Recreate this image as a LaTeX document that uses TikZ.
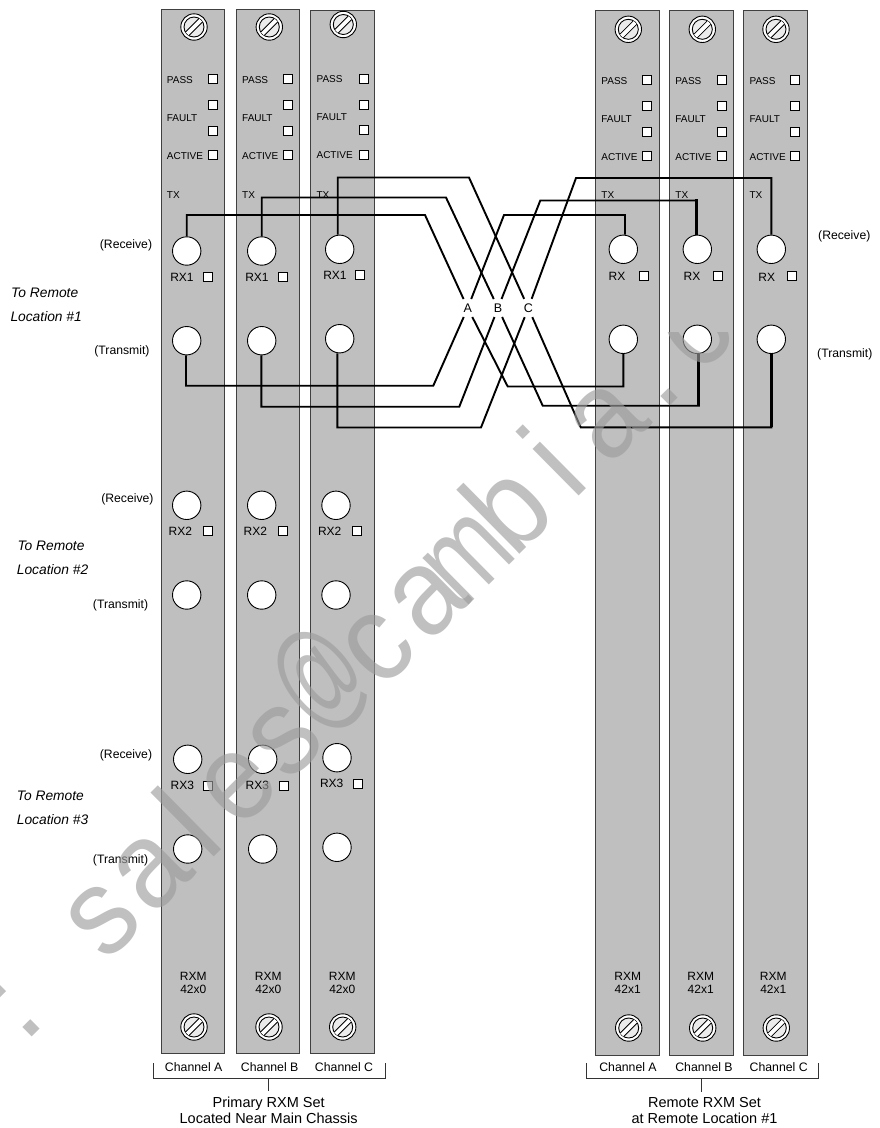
\documentclass[tikz,border=0pt]{standalone}
\usepackage{fontspec}
\usepackage{graphicx}
\setmainfont{Liberation Sans}
\usetikzlibrary{calc}
\usetikzlibrary{positioning}

\definecolor{panelgray}{gray}{0.75}
\definecolor{panelline}{gray}{0.25}
\definecolor{markgray}{gray}{0.61}

\tikzset{
  panelbox/.style={draw=panelline, line width=1pt, fill=panelgray, anchor=north west,
    inner sep=0pt, outer sep=0pt, minimum width=63.6pt},
  ledbox/.style={draw=black, line width=0.9pt, fill=white, inner sep=0pt, minimum size=9pt},
  portcirc/.style={circle, draw=black, line width=0.9pt, fill=white, inner sep=0pt, minimum size=28.4pt},
  ledtext/.style={anchor=west, inner sep=0pt, font=\fontsize{10}{12}\selectfont},
  rxtext/.style={inner sep=0pt, font=\fontsize{12}{14}\selectfont},
  sidetext/.style={inner sep=0pt, font=\fontsize{12.2}{14}\selectfont},
  loctext/.style={inner sep=0pt, anchor=west, font=\fontsize{13.8}{16}\selectfont\itshape},
  modeltext/.style={inner sep=0pt, align=center, font=\fontsize{12}{12.6}\selectfont},
  chantext/.style={inner sep=0pt, font=\fontsize{12.3}{14}\selectfont},
  settext/.style={inner sep=5.5pt, align=center, font=\fontsize{14.5}{16}\selectfont},
  xtext/.style={inner xsep=1pt, inner ysep=4.5pt, font=\fontsize{12.5}{14}\selectfont},
  wire/.style={draw=black, line width=1.9pt, line join=miter},
  bracketline/.style={draw=black!80, line width=0.9pt},
  stampletter/.style={anchor=base, inner sep=0pt, rotate=44.7, opacity=0.64, text=markgray,
    font=\fontsize{124}{124}\selectfont},
  screwhead/.pic={
    \draw[fill=white, line width=0.9pt] (0,0) circle (13.2);
    \draw[fill=black!8, line width=0.9pt] (0,0) circle (10);
    \fill[white] (-8.6,5.1) -- (5.1,-8.6) -- (8.6,-5.1) -- (-5.1,8.6) -- cycle;
    \draw[line width=0.8pt] (-8.6,5.1) -- (5.1,-8.6);
    \draw[line width=0.8pt] (-5.1,8.6) -- (8.6,-5.1);
  }
}

\begin{document}
\begin{tikzpicture}[x=1pt, y=-1pt]

    \useasboundingbox (0,0) rectangle (879,1128);

    % the six modules
    \foreach \pn/\pl/\pt/\ph/\sx/\sy/\bx/\by/\lx/\dy/\mx/\cx/\mt/\chl in {
        pa/161/9.5/1044.2/194/27/194/1027/212.7/0/193.3/193.7/42x0/A,
        pb/236.3/9.5/1044.2/269.3/27/269/1027/287.7/0/268.3/269.7/42x0/B,
        pc/310.7/10/1043.7/343.3/24.5/342.7/1027/364/-0.5/342.3/344/42x0/C,
        ra/595.5/10.5/1044.5/628.3/29.3/628.7/1028/647.3/1.2/627.7/628/42x1/A,
        rb/669.5/10.5/1044.5/702.3/29.3/702.7/1028/721.6/1.2/700.7/704/42x1/B,
        rc/743.7/10.5/1044.5/776/29.3/776.3/1028/795.3/1.2/773.3/778.7/42x1/C} {
      \node[panelbox, minimum height=\ph pt] (panel_\pn) at (\pl,\pt) {};
      \pic (screwtop_\pn) at (\sx,\sy) {screwhead};
      \pic (screwbot_\pn) at (\bx,\by) {screwhead};
      \node[ledtext] (pass_\pn) at (\pl+5.7,80+\dy) {PASS};
      \node[ledtext] (fault_\pn) at (\pl+5.7,118+\dy) {FAULT};
      \node[ledtext] (active_\pn) at (\pl+5.7,156+\dy) {ACTIVE};
      \node[ledtext] (txt_\pn) at (\pl+5.7,195) {TX};
      \node[ledbox] (ledpass_\pn) at (\lx,79+\dy) {};
      \node[ledbox] (ledfa_\pn) at (\lx,105+\dy) {};
      \node[ledbox] (ledfb_\pn) at (\lx,130.5+\dy) {};
      \node[ledbox] (ledact_\pn) at (\lx,155+\dy) {};
      \node[modeltext] (model_\pn) at (\mx,983) {RXM\\\mt};
      \node[chantext] (chan_\pn) at (\cx,1067) {Channel \chl};
    }

    % ports
    \foreach \pn/\x/\y in {
        rxo_a/186.7/251, rxo_b/261.7/251, rxo_c/339.7/249.3,
        txo_a/186.7/340.7, txo_b/261.7/340.7, txo_c/339.7/338.7,
        rxt_a/186.7/505.3, rxt_b/261.7/505.3, rxt_c/336/505.3,
        txt_a/186.7/595, txt_b/261.7/595, txt_c/336/595,
        rxh_a/187.7/759.3, rxh_b/262.7/759.3, rxh_c/337/757.7,
        txh_a/187.7/849, txh_b/262.7/849, txh_c/337/847.3,
        rxr_a/623.3/249.3, rxr_b/697.3/249.3, rxr_c/771.3/249.3,
        txr_a/623.3/339.3, txr_b/697.3/339.3, txr_c/771.3/339.3} {
      \node[portcirc] (\pn) at (\x,\y) {};
    }

    % receive labels and their lamps
    \foreach \rxname/\x/\y/\lx/\ly [count=\i] in {
        RX1/182/277.7/207.7/277, RX1/257/277.7/282.7/277, RX1/335/275.7/360.3/275.3,
        RX2/180.3/531/207.7/531.3, RX2/255.3/531/282.7/531.3, RX2/329.7/531/357/531.3,
        RX3/182.3/785/208.3/785.7, RX3/257.3/785/283.7/785.7, RX3/331.7/783.7/358/784,
        RX/617/276.5/644.3/275.7, RX/692/276.5/718.3/275.7, RX/766.7/277.2/792.3/275.7} {
      \node[rxtext] (rxname_\i) at (\x,\y) {\rxname};
      \node[ledbox] (rxled_\i) at (\lx,\ly) {};
    }

    % side labels
    \node[sidetext, anchor=east] (recv_one) at (152.3,245) {(Receive)};
    \node[sidetext, anchor=east] (trans_one) at (149.7,351) {(Transmit)};
    \node[sidetext, anchor=east] (recv_two) at (153.7,499.7) {(Receive)};
    \node[sidetext, anchor=east] (trans_two) at (148.3,605) {(Transmit)};
    \node[sidetext, anchor=east] (recv_three) at (152.3,755) {(Receive)};
    \node[sidetext, anchor=east] (trans_three) at (148.3,860) {(Transmit)};
    \node[sidetext, anchor=west] (recv_rem) at (818,236) {(Receive)};
    \node[sidetext, anchor=west] (trans_rem) at (817,354) {(Transmit)};

    \node[loctext] (to_one) at (11,293) {To Remote};
    \node[loctext] (loc_one) at (10.3,317) {Location \#1};
    \node[loctext] (to_two) at (17.3,546) {To Remote};
    \node[loctext] (loc_two) at (16.7,570) {Location \#2};
    \node[loctext] (to_three) at (16.7,796) {To Remote};
    \node[loctext] (loc_three) at (16.7,820) {Location \#3};

    % crossover cables
    \node[xtext] (cross_a) at (467.7,308) {A};
    \node[xtext] (cross_b) at (498,308) {B};
    \node[xtext] (cross_c) at (528.3,308) {C};

    \draw[wire] (rxo_a.north) |- (425,215) -- (cross_a) -- (507.7,386.5) -| (txr_a.south);
    \draw[wire] (rxo_b.north) |- (446,197.5) -- (cross_b) -- (542.7,405.7) -| ([xshift=1.5pt]txr_b.south);
    \draw[wire] ([xshift=-2pt]rxo_c.north) |- (469,177.5) -- (cross_c) -- (580.7,427.3) -| (txr_c.south);
    \draw[wire] ([xshift=-0.7pt]txo_a.south) |- (433.3,385.7) -- (cross_a) -- (504,215) -| ([xshift=1.7pt]rxr_a.north);
    \draw[wire] ([xshift=-0.4pt]txo_b.south) |- (459.3,406.7) -- (cross_b) -- (540.3,200.5) -| ([xshift=-0.6pt]rxr_b.north);
    \draw[wire] ([xshift=-2.4pt]txo_c.south) |- (481,427.5) -- (cross_c) -- (576,178) -| (rxr_c.north);
    \draw[wire, line width=2.8pt] ([xshift=-0.6pt]rxr_b.north) -- ++(0,-36);
    \draw[wire, line width=2.8pt] ([xshift=1.5pt]txr_b.south) -- ++(0,52);
    \draw[wire, line width=2.8pt] (txr_c.south) -- ++(0,73);

    % brackets below each set
    \node[settext] (primary_set) at (268.7,1110.5) {Primary RXM Set\\Located Near Main Chassis};
    \node[settext] (remote_set) at (704.5,1110.5) {Remote RXM Set\\at Remote Location \#1};
    \coordinate (primary_stem) at (268.7,1078.3);
    \coordinate (remote_stem) at (701,1078.3);
    \draw[bracketline] (153.7,1063.3) -- (153.7,1078.3) -- (385.3,1078.3) -- (385.3,1063.3);
    \draw[bracketline] (586.3,1063.3) -- (586.3,1078.3) -- (818,1078.3) -- (818,1063.3);
    \draw[bracketline] (primary_stem) -- (primary_stem |- primary_set.north);
    \draw[bracketline] (remote_stem) -- (remote_stem |- remote_set.north);

    % stamp across the sheet, letter by letter along its slanted base line
    \begin{scope}
      \clip (0,332) rectangle (879,1128);
      \fill[markgray, opacity=0.64] (-6,991) -- (0,985) -- (6,991) -- (0,997) -- cycle;
      \foreach \ch/\sd/\sq/\up [count=\i] in {
          ./-257/0.95/0, s/-130/0.92/0, a/-61.6/0.92/0, l/-2/0.95/0, e/61/0.92/0, s/126/0.92/0, @/194/0.64/14,
          c/256.5/0.92/0, a/327/0.92/0, m/384/0.75/0, b/448/0.92/0, i/511/0.95/0, a/579/0.92/0, ./640/0.95/0, c/705/0.92/0} {
        \node[stampletter] (stamp_\i) at (219+0.711*\sd-0.703*\up,852-0.703*\sd-0.711*\up) {\scalebox{\sq}[1]{\ch}};
      }
    \end{scope}

\end{tikzpicture}
\end{document}
